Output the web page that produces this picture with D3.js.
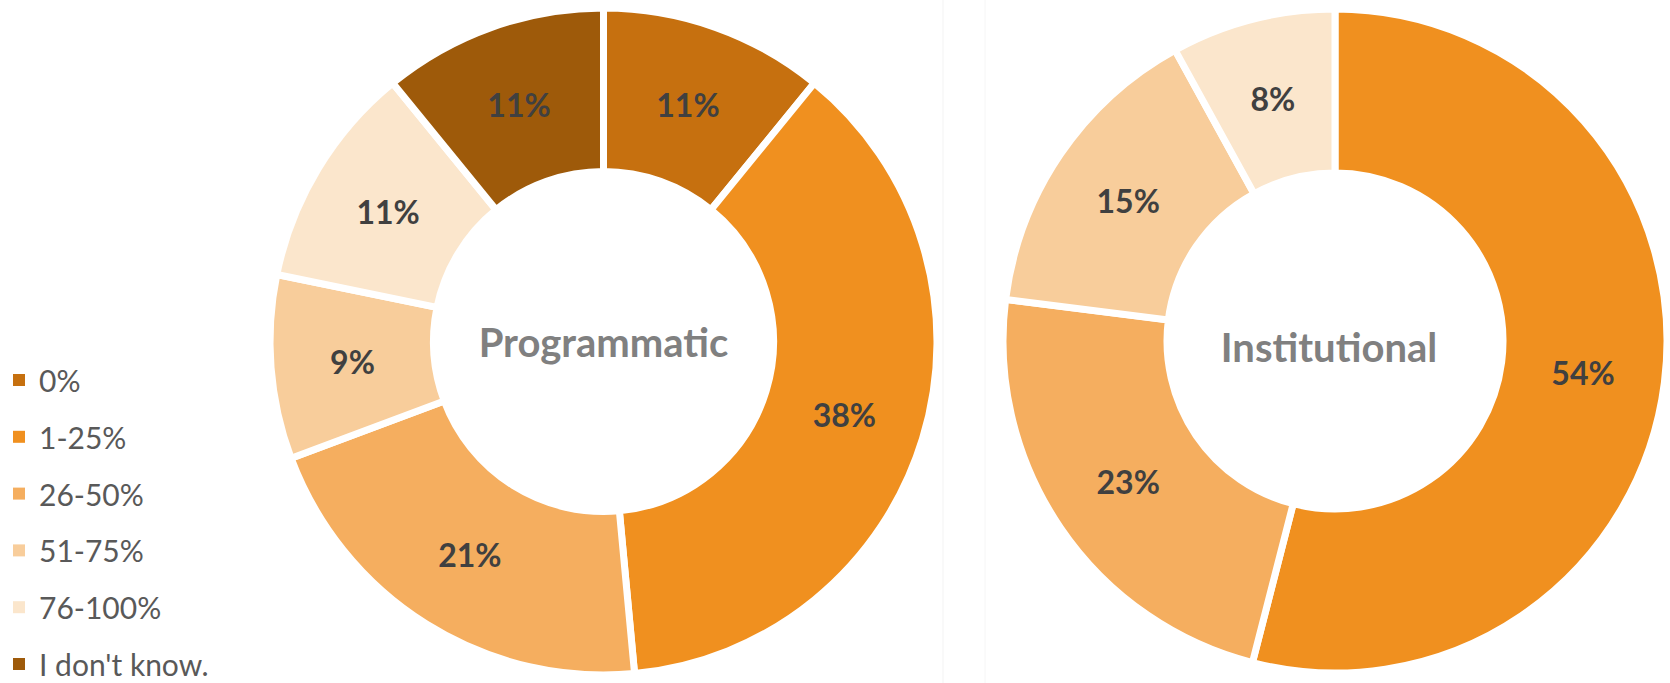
<!DOCTYPE html>
<html>
<head>
<meta charset="utf-8">
<script src="https://cdn.jsdelivr.net/npm/d3@7"></script>
<style>
  html, body { margin: 0; padding: 0; background: #ffffff; }
  svg { display: block; }
</style>
</head>
<body>
<svg id="chart" width="1670" height="683"></svg>
<script>
// ---- Data ----
const categories = ["0%", "1-25%", "26-50%", "51-75%", "76-100%", "I don't know."];
const programmaticValues = [11, 38, 21, 9, 11, 11];
const institutionalValues = [0, 54, 23, 15, 8, 0];
const chartTitles = ["Programmatic", "Institutional"];
const sliceColors = ["#c6700f", "#f0901f", "#f5ae5f", "#f8cd9b", "#fbe6cc", "#9e5a0a"];

// ---- Layout ----
const svg = d3.select("#chart");
const color = d3.scaleOrdinal().domain(categories).range(sliceColors);

// faint panel separators
svg.append("line").attr("x1", 943).attr("x2", 943).attr("y1", 0).attr("y2", 683)
  .attr("stroke", "#f3f3f3").attr("stroke-width", 1);
svg.append("line").attr("x1", 985).attr("x2", 985).attr("y1", 0).attr("y2", 683)
  .attr("stroke", "#f6f6f6").attr("stroke-width", 1);

const pie = d3.pie().sort(null).value(d => d.value);

const donuts = [
  { title: chartTitles[0], values: programmaticValues, cx: 603.5, cy: 341.5, outer: 333.5, inner: 170, titleDx: 0, titleDy: 0 },
  { title: chartTitles[1], values: institutionalValues, cx: 1335, cy: 341, outer: 332, inner: 168, titleDx: -6, titleDy: 6 }
];

donuts.forEach(dn => {
  const data = categories.map((c, i) => ({ cat: c, value: dn.values[i] }));
  const arcs = pie(data);
  const arc = d3.arc().innerRadius(dn.inner).outerRadius(dn.outer);
  const g = svg.append("g").attr("transform", `translate(${dn.cx},${dn.cy})`);

  g.selectAll("path.slice")
    .data(arcs.filter(a => a.data.value > 0))
    .join("path")
    .attr("class", "slice")
    .attr("d", arc)
    .attr("fill", d => color(d.data.cat))
    .attr("stroke", "#ffffff")
    .attr("stroke-width", 7)
    .attr("stroke-linejoin", "miter");

  g.selectAll("text.lbl")
    .data(arcs.filter(a => a.data.value > 0))
    .join("text")
    .attr("class", "lbl")
    .attr("transform", d => `translate(${arc.centroid(d)})`)
    .attr("text-anchor", "middle")
    .attr("dominant-baseline", "central")
    .attr("font-family", "Lato, 'Open Sans', sans-serif")
    .attr("font-weight", "bold")
    .attr("font-size", 32)
    .attr("fill", "#404040")
    .text(d => d.data.value + "%");

  g.append("text")
    .attr("x", dn.titleDx).attr("y", dn.titleDy)
    .attr("text-anchor", "middle")
    .attr("dominant-baseline", "central")
    .attr("font-family", "Lato, 'Open Sans', sans-serif")
    .attr("font-weight", "bold")
    .attr("font-size", 40)
    .attr("fill", "#808080")
    .text(dn.title);
});

// ---- Legend ----
const legendY = d3.scalePoint().domain(categories).range([380, 664]);
const lg = svg.append("g");
const items = lg.selectAll("g.item").data(categories).join("g")
  .attr("class", "item")
  .attr("transform", d => `translate(0,${legendY(d)})`);
items.append("rect")
  .attr("x", 13).attr("y", -6).attr("width", 12).attr("height", 12)
  .attr("fill", d => color(d));
items.append("text")
  .attr("x", 39).attr("y", 0)
  .attr("dominant-baseline", "central")
  .attr("font-family", "Lato, 'Open Sans', sans-serif")
  .attr("font-size", 30)
  .attr("fill", "#595959")
  .text(d => d);
</script>
</body>
</html>
